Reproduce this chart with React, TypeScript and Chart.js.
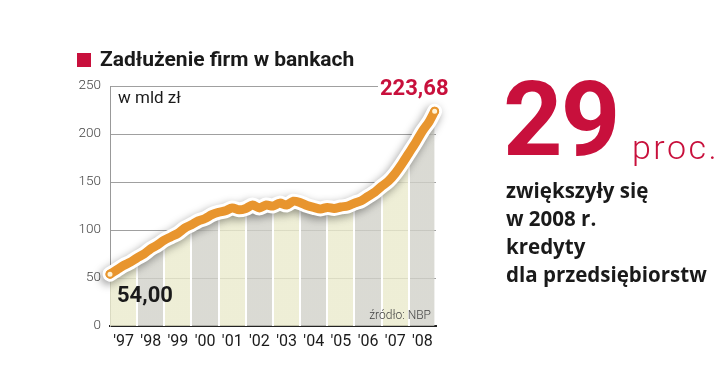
import React, { useEffect, useRef } from "react";
import { Chart, registerables } from "chart.js";

Chart.register(...registerables);

// ---- data ----
const years = [
  1997.0, 1997.25, 1997.5, 1997.75, 1998.0, 1998.25, 1998.5, 1998.75,
  1999.0, 1999.25, 1999.5, 1999.75, 2000.0, 2000.25, 2000.5, 2000.75,
  2001.0, 2001.25, 2001.5, 2001.75, 2002.0, 2002.25, 2002.5, 2002.75,
  2003.0, 2003.25, 2003.5, 2003.75, 2004.0, 2004.25, 2004.5, 2004.75,
  2005.0, 2005.25, 2005.5, 2005.75, 2006.0, 2006.25, 2006.5, 2006.75,
  2007.0, 2007.25, 2007.5, 2007.75, 2008.0, 2008.25, 2008.5, 2008.75, 2008.95,
];
const debt = [
  54.0, 58.5, 63, 66.5, 71, 75, 80.5, 84.5,
  89.5, 93, 96.5, 102, 105.5, 109.5, 112, 116,
  118.5, 120, 123, 121, 122.5, 126, 123, 126,
  125, 128, 126, 130, 128.5, 125.5, 123.5, 122,
  123.5, 122.5, 124, 125, 128, 130.5, 135, 139.5,
  145.5, 151, 159, 169, 180, 191, 203, 213, 223.68,
];
const columnStarts = [1997, 1998, 1999, 2000, 2001, 2002, 2003, 2004, 2005, 2006, 2007, 2008];
const yearLabels = ["'97", "'98", "'99", "'00", "'01", "'02", "'03", "'04", "'05", "'06", "'07", "'08"];
const yMin = 0;
const yMax = 250;
const yStep = 50;
const startValueLabel = "54,00";
const endValueLabel = "223,68";

const CRIMSON = "#c8103c";
const ORANGE = "#e8952e";
const stripeColors = ["rgba(234,234,204,0.8)", "rgba(209,209,201,0.8)"];

function clamp01(v: number) {
  return Math.max(0, Math.min(1, v));
}

function stripeFill(context: any) {
  const chart = context.chart;
  const area = chart.chartArea;
  if (!area) return stripeColors[0];
  const xs = chart.scales.x;
  const w = area.right - area.left;
  const g = chart.ctx.createLinearGradient(area.left, 0, area.right, 0);
  const gap = 1;
  columnStarts.forEach((yr, i) => {
    const a = xs.getPixelForValue(yr);
    const b = xs.getPixelForValue(yr + 1);
    const p0 = clamp01((a - area.left + (i === 0 ? 0 : gap)) / w);
    const p1 = clamp01((b - area.left - gap) / w);
    const col = stripeColors[i % 2];
    g.addColorStop(p0, col);
    g.addColorStop(p1, col);
    g.addColorStop(p1, "#ffffff");
    if (i < columnStarts.length - 1) {
      const nextStart = clamp01((b - area.left + gap) / w);
      g.addColorStop(nextStart, "#ffffff");
    }
  });
  return g;
}

const shadowPlugin = {
  id: "lineShadow",
  beforeDatasetDraw(chart: any, args: any) {
    if (args.index === 1) {
      const c = chart.ctx;
      c.save();
      c.shadowColor = "rgba(0,0,0,0.38)";
      c.shadowBlur = 8;
      c.shadowOffsetX = -2;
      c.shadowOffsetY = 3;
    }
  },
  afterDatasetDraw(chart: any, args: any) {
    if (args.index === 1) chart.ctx.restore();
  },
};

export default function App() {
  const ref = useRef<HTMLCanvasElement | null>(null);

  useEffect(() => {
    if (!ref.current) return;
    const points = years.map((x, i) => ({ x, y: debt[i] }));
    const last = points.length - 1;
    const chart = new Chart(ref.current, {
      type: "line",
      data: {
        datasets: [
          {
            data: points,
            fill: "origin",
            backgroundColor: stripeFill,
            borderWidth: 0,
            pointRadius: 0,
            tension: 0.3,
            order: 3,
          } as any,
          {
            data: points,
            fill: false,
            borderColor: "#ffffff",
            borderWidth: 15,
            borderCapStyle: "round",
            borderJoinStyle: "round",
            pointRadius: 0,
            tension: 0.3,
            clip: false,
            order: 2,
          } as any,
          {
            data: points,
            fill: false,
            borderColor: ORANGE,
            borderWidth: 9,
            borderCapStyle: "round",
            borderJoinStyle: "round",
            tension: 0.3,
            clip: false,
            pointRadius: (c: any) => (c.dataIndex === 0 || c.dataIndex === last ? 3.5 : 0),
            pointBackgroundColor: "#fff4d8",
            pointBorderColor: ORANGE,
            pointBorderWidth: 2,
            order: 1,
          } as any,
        ],
      },
      options: {
        responsive: false,
        animation: false,
        devicePixelRatio: 1,
        layout: { padding: { left: 60, right: 284, top: 86, bottom: 29 } },
        plugins: { legend: { display: false }, tooltip: { enabled: false } },
        scales: {
          x: {
            type: "linear",
            min: columnStarts[0],
            max: columnStarts[columnStarts.length - 1] + 1,
            grid: { display: false, drawTicks: false },
            border: { display: true, color: "#222222", width: 2 },
            afterBuildTicks: (s: any) => {
              s.ticks = columnStarts.map((v) => ({ value: v + 0.5 }));
            },
            afterFit: (s: any) => {
              s.height = 30;
            },
            ticks: {
              autoSkip: false,
              maxRotation: 0,
              padding: 6,
              color: "#1a1a1a",
              font: { family: "Roboto", size: 16, weight: "400" },
              callback: (_v: any, i: number) => yearLabels[i],
            },
          },
          y: {
            min: yMin,
            max: yMax,
            grid: { color: "#a0a0a0", lineWidth: 1, drawTicks: false },
            border: { display: true, color: "#999999", width: 1 },
            afterFit: (s: any) => {
              s.width = 50;
            },
            ticks: {
              stepSize: yStep,
              padding: 9,
              color: "#444444",
              font: { family: "Roboto", size: 13.5, weight: "300" },
            },
          },
        },
      } as any,
      plugins: [shadowPlugin],
    });
    return () => chart.destroy();
  }, []);

  const abs = (s: React.CSSProperties): React.CSSProperties => ({
    position: "absolute",
    fontFamily: "Roboto",
    lineHeight: 1,
    whiteSpace: "nowrap",
    margin: 0,
    ...s,
  });

  return (
    <div style={{ position: "fixed", left: 0, top: 0, width: 720, height: 385, background: "#ffffff", overflow: "hidden" }}>
      <canvas ref={ref} width={720} height={385} style={{ position: "absolute", left: 0, top: 0, width: 720, height: 385 }} />
      <div style={{ position: "absolute", left: 77, top: 53, width: 14, height: 14, background: CRIMSON }} />
      <div style={abs({ left: 100, top: 49.3, fontSize: 21, fontWeight: 700, color: "#1a1a1a" })}>Zadłużenie firm w bankach</div>
      <div style={abs({ left: 118, top: 89, fontSize: 17, fontWeight: 400, color: "#1a1a1a" })}>w mld zł</div>
      <div style={abs({ left: 378, top: 76.5, fontSize: 22, fontWeight: 700, color: CRIMSON, background: "#ffffff", padding: "0 2px" })}>{endValueLabel}</div>
      <div style={abs({ left: 117, top: 284, fontSize: 22, fontWeight: 700, color: "#1a1a1a" })}>{startValueLabel}</div>
      <div style={abs({ right: 289, top: 309, fontSize: 12, fontWeight: 300, color: "#444444" })}>źródło: NBP</div>
      <div style={abs({ left: 503, top: 67.5, fontSize: 104, fontWeight: 700, color: CRIMSON, letterSpacing: -2 })}>29</div>
      <div style={abs({ left: 632, top: 129.5, fontSize: 34, fontWeight: 300, color: CRIMSON, letterSpacing: 2.5 })}>proc.</div>
      <div style={{ position: "absolute", left: 506, top: 175.7, fontFamily: "'Open Sans'", fontSize: 20.5, fontWeight: 700, lineHeight: "28px", color: "#1a1a1a", whiteSpace: "nowrap" }}>
        zwiększyły się
        <br />
        w 2008 r.
        <br />
        kredyty
        <br />
        dla przedsiębiorstw
      </div>
    </div>
  );
}
